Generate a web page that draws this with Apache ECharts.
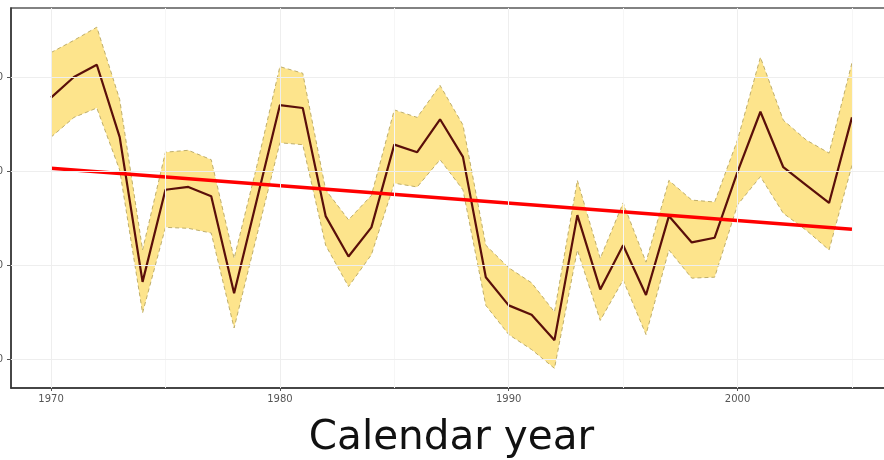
<!DOCTYPE html>
<html>
<head>
<meta charset="utf-8">
<script src="https://cdn.jsdelivr.net/npm/echarts@6/dist/echarts.min.js"></script>
<style>
  html, body { margin: 0; padding: 0; background: #ffffff; }
  #chart { width: 884px; height: 460px; }
</style>
</head>
<body>
<div id="chart"></div>
<script>
// Annual index with confidence band and fitted linear trend
const years = [1970,1971,1972,1973,1974,1975,1976,1977,1978,1979,
               1980,1981,1982,1983,1984,1985,1986,1987,1988,1989,
               1990,1991,1992,1993,1994,1995,1996,1997,1998,1999,
               2000,2001,2002,2003,2004,2005];
const estimate = [37.8,40.0,41.3,33.6,18.2,28.0,28.3,27.3,17.0,27.0,
                  37.0,36.7,25.2,20.9,24.0,32.8,32.0,35.5,31.5,18.7,
                  15.7,14.7,12.0,25.3,17.4,22.1,16.8,25.2,22.4,22.9,
                  29.9,36.3,30.4,28.5,26.6,35.7];
const upper = [42.6,43.9,45.3,37.6,21.6,32.0,32.2,31.2,20.7,30.6,
               41.1,40.4,28.0,24.8,27.4,36.5,35.7,39.1,34.9,22.1,
               19.7,18.1,15.0,29.0,20.7,26.6,20.3,29.0,26.9,26.7,
               33.3,42.1,35.4,33.3,31.9,41.5];
const lower = [33.6,35.7,36.7,30.1,14.9,24.0,23.9,23.4,13.3,23.2,
               33.0,32.8,22.1,17.7,21.1,28.7,28.3,31.2,28.0,15.7,
               12.6,11.0, 9.0,21.6,14.1,18.4,12.6,21.6,18.6,18.7,
               26.4,29.4,25.5,23.7,21.6,30.6];
const trendYears = [1970, 2005];
const trendValues = [30.3, 23.8];
const xTicks = [1970, 1980, 1990, 2000];
const xMinorTicks = [1975, 1985, 1995, 2005];
const yTicks = [10, 20, 30, 40];

const pairs = (xs, ys) => xs.map((x, i) => [x, ys[i]]);

const chart = echarts.init(document.getElementById('chart'));

// Confidence band as one polygon: upper edge left-to-right, lower edge back
function renderBand(params, api) {
  if (params.dataIndex !== 0) return null;
  const pts = [];
  for (let i = 0; i < years.length; i++) pts.push(api.coord([years[i], upper[i]]));
  for (let i = years.length - 1; i >= 0; i--) pts.push(api.coord([years[i], lower[i]]));
  return {
    type: 'polygon',
    shape: { points: pts },
    style: { fill: '#fde48c', stroke: null },
    silent: true
  };
}

chart.setOption({
  animation: false,
  backgroundColor: '#ffffff',
  grid: {
    left: 11, top: 8, right: -8, bottom: 72,
    outerBoundsMode: 'none', containLabel: false,
    show: true, borderColor: '#5a5a5a', borderWidth: 1.5
  },
  xAxis: {
    type: 'value', min: 1968.25, max: 2006.75,
    name: 'Calendar year', nameLocation: 'middle', nameGap: 30,
    nameTextStyle: { fontFamily: 'DejaVu Sans', fontSize: 40.5, color: '#111111' },
    axisLine: { show: true, lineStyle: { color: '#333333', width: 1.5 } },
    axisTick: { show: true, customValues: xTicks, length: 3, lineStyle: { color: '#555555' } },
    axisLabel: {
      customValues: xTicks, margin: 6, fontFamily: 'DejaVu Sans', fontSize: 10, color: '#555555',
      formatter: v => String(v)
    },
    splitLine: { show: false }
  },
  yAxis: {
    type: 'value', min: 6.91, max: 47.34,
    axisLine: { show: true, lineStyle: { color: '#333333', width: 1.5 } },
    axisTick: { show: true, customValues: yTicks, length: 4, lineStyle: { color: '#555555' } },
    axisLabel: {
      customValues: yTicks, margin: 8, fontFamily: 'DejaVu Sans', fontSize: 10, color: '#555555',
      formatter: v => String(v)
    },
    splitLine: { show: false }
  },
  series: [
    {
      // faint panel grid lines, major and minor
      type: 'line', data: [], silent: true,
      markLine: {
        symbol: 'none', silent: true, label: { show: false },
        data: xTicks.map(v => ({ xAxis: v, lineStyle: { color: '#eeeeee', width: 1, type: 'solid' } }))
          .concat(xMinorTicks.map(v => ({ xAxis: v, lineStyle: { color: '#f6f6f6', width: 1, type: 'solid' } })))
          .concat(yTicks.map(v => ({ yAxis: v, lineStyle: { color: '#eeeeee', width: 1, type: 'solid' } })))
      }
    },
    {
      name: 'band', type: 'custom', renderItem: renderBand,
      data: pairs(years, upper), silent: true, clip: true
    },
    {
      name: 'upper', type: 'line', data: pairs(years, upper), symbol: 'none',
      lineStyle: { color: '#bfae6a', width: 1, type: [4, 3] }
    },
    {
      name: 'lower', type: 'line', data: pairs(years, lower), symbol: 'none',
      lineStyle: { color: '#bfae6a', width: 1, type: [4, 3] }
    },
    {
      name: 'estimate', type: 'line', data: pairs(years, estimate), symbol: 'none',
      lineStyle: { color: '#5a0f0a', width: 2.2 }
    },
    {
      name: 'trend', type: 'line', data: pairs(trendYears, trendValues), symbol: 'none',
      lineStyle: { color: '#ff0000', width: 3.5 }
    }
  ]
});
</script>
</body>
</html>
